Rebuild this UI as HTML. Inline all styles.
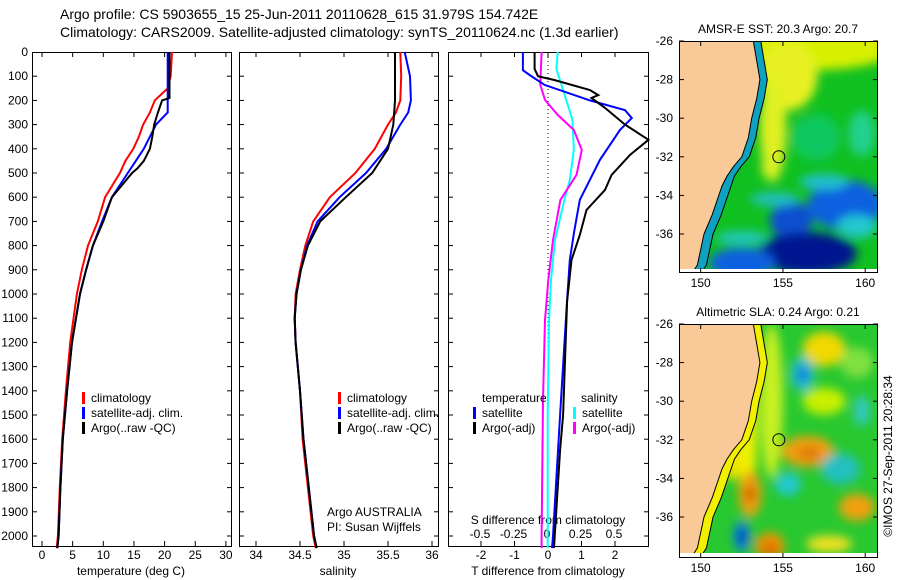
<!DOCTYPE html>
<html><head><meta charset="utf-8"><style>
body{margin:0;background:#fff;}
svg{display:block;font-family:"Liberation Sans",sans-serif;}
text{font-size:12px;fill:#000;}
</style></head><body>
<svg id="s" width="900" height="580" viewBox="0 0 900 580">
<defs>
<filter id="bl" x="-50%" y="-50%" width="200%" height="200%"><feGaussianBlur stdDeviation="5"/></filter>
<clipPath id="c1"><rect x="679" y="41" width="199" height="228"/></clipPath>
<clipPath id="c2"><rect x="679" y="324" width="199" height="229"/></clipPath>
</defs>
<text x="60" y="19" style="font-size:14px">Argo profile: CS 5903655_15 25-Jun-2011 20110628_615 31.979S 154.742E</text>
<text x="60" y="37" style="font-size:14px">Climatology: CARS2009. Satellite-adjusted climatology: synTS_20110624.nc (1.3d earlier)</text>
<g id="g"></g>
</svg>
<script>
// ---- data ----
const tDepth=[0,100,150,200,250,300,350,400,450,500,550,600,700,800,900,1000,1200,1400,1600,1800,2000,2050];
const tClim=[21.2,21.0,20.5,18.4,17.6,16.5,15.8,14.9,13.6,12.7,11.5,10.3,9.1,7.5,6.5,5.7,4.6,3.9,3.3,2.9,2.6,2.4];
const tSatDepth=[0,250,300,350,400,450,500,600,700,800,900,1000,1200,1400,1600,1800,2000,2050];
const tSat=[20.5,20.5,18.6,17.6,16.6,15.3,14.0,11.4,9.8,8.3,7.2,6.2,4.9,4.1,3.4,3.0,2.7,2.5];
const tArgoDepth=[0,190,200,250,300,350,400,450,480,500,600,700,800,900,1000,1200,1400,1600,1800,2000,2050];
const tArgo=[20.8,20.8,19.6,18.9,18.3,18.0,17.6,16.6,15.6,14.7,11.4,10.0,8.3,7.2,6.2,4.9,4.1,3.4,3.0,2.7,2.5];
const sDepth=[0,100,200,250,300,400,500,600,700,800,900,1000,1100,1200,1400,1600,1800,2000,2050];
const sClim=[35.64,35.65,35.64,35.59,35.5,35.35,35.13,34.84,34.65,34.56,34.5,34.45,34.44,34.45,34.5,34.53,34.59,34.65,34.68];
const sSat=[35.69,35.75,35.76,35.73,35.64,35.48,35.25,34.95,34.7,34.58,34.51,34.46,34.44,34.45,34.5,34.54,34.6,34.66,34.69];
const sArgo=[35.58,35.58,35.58,35.57,35.56,35.5,35.32,35.02,34.73,34.59,34.51,34.46,34.44,34.45,34.5,34.54,34.6,34.66,34.69];
const dtSatDepth=[0,75,95,136,200,240,273,322,446,611,744,860,1025,1500,2000,2050];
const dtSat=[-0.75,-0.75,-0.55,-0.1,1.25,2.3,2.5,2.15,1.55,0.95,0.78,0.65,0.57,0.36,0.15,0.12];
const dtArgoDepth=[0,70,100,116,157,178,190,231,300,363,425,508,570,653,756,860,1030,1500,1645,2000,2050];
const dtArgo=[-0.4,-0.4,-0.3,0.2,1.25,1.5,1.3,1.7,2.3,3.0,2.45,1.9,1.7,1.15,0.95,0.7,0.57,0.45,0.36,0.2,0.18];
const dsDepth=[0,136,198,260,322,405,508,611,777,942,1107,1438,2000,2050];
const dsArgo=[-0.04,-0.05,-0.015,0.08,0.2,0.26,0.22,0.1,0.045,0.01,-0.015,-0.03,-0.04,-0.04];
const dsSatDepth=[0,70,157,281,405,529,611,777,942,1107,1500,2000,2050];
const dsSat=[0.08,0.07,0.12,0.19,0.2,0.17,0.13,0.06,0.03,0.015,0.005,0.005,0.005];
const depthTicks=[0,100,200,300,400,500,600,700,800,900,1000,1100,1200,1300,1400,1500,1600,1700,1800,1900,2000];
const tTicks=[0,5,10,15,20,25,30];
const sTicks=[34,34.5,35,35.5,36];
const dtTicks=[-2,-1,0,1,2];
const dsTicks=[-0.5,-0.25,0,0.25,0.5];
const dsTickLabels=["-0.5","-0.25","0","0.25","0.5"];
const latTicks=[-26,-28,-30,-32,-34,-36];
const lonTicks=[150,155,160];
// ---- axes ----
const Y=d=>52+d*0.242;
const xT=v=>42+v*6.13, xS=v=>256+(v-34)*88, xDT=v=>548+v*33.5, xDS=v=>547+v*134;
const NS='http://www.w3.org/2000/svg', G=document.getElementById('g');
function el(tag,attrs,parent){const e=document.createElementNS(NS,tag);for(const k in attrs)e.setAttribute(k,attrs[k]);(parent||G).appendChild(e);return e;}
function txt(x,y,s,anchor,parent,size){const t=el('text',{x:x,y:y,'text-anchor':anchor||'start'},parent);if(size)t.style.fontSize=size+'px';t.textContent=s;return t;}
function line(xs,ds,fx,col,name,w){
  const p=xs.map((v,i)=>fx(v).toFixed(1)+','+Y(ds[i]).toFixed(1)).join(' ');
  const e=el('polyline',{points:p,fill:'none',stroke:col,'stroke-width':w||2});
  
  
}
const panels=[[32,231],[239,438],[448,648]];
panels.forEach((p,i)=>{
  const r=el('rect',{x:p[0]+.5,y:52.5,width:p[1]-p[0],height:494,fill:'none',stroke:'#000'});
  
  
  depthTicks.forEach(d=>{if(d==0)return;el('line',{x1:p[0],x2:p[0]+5,y1:Y(d),y2:Y(d),stroke:'#000'});el('line',{x1:p[1]-4,x2:p[1],y1:Y(d),y2:Y(d),stroke:'#000'});});
});
depthTicks.forEach(d=>{const t=txt(28,Y(d)+4,String(d),'end');});
function xticks(ticks,fx,labels,ly){ticks.forEach((v,i)=>{const x=fx(v);el('line',{x1:x,x2:x,y1:546,y2:541,stroke:'#000'});el('line',{x1:x,x2:x,y1:52,y2:57,stroke:'#000'});const t=txt(x,ly,labels?labels[i]:String(v),'middle');});}
xticks(tTicks,xT,null,559);xticks(sTicks,xS,null,559);xticks(dtTicks,xDT,null,559);
dsTicks.forEach((v,i)=>{const t=txt(xDS(v),538,dsTickLabels[i],'middle');});
[['temperature (deg C)',131,575],['salinity',338,575],['T difference from climatology',548,575],['S difference from climatology',548,524]].forEach(a=>{const t=txt(a[1],a[2],a[0],'middle');});
el('line',{x1:548,x2:548,y1:53,y2:545,stroke:'#000','stroke-dasharray':'1,3'});
// series
line(tClim,tDepth,xT,'#f00','temp-climatology');
line(tSat,tSatDepth,xT,'#00f','temp-satellite');
line(tArgo,tArgoDepth,xT,'#000','temp-argo');
line(sClim,sDepth,xS,'#f00','sal-climatology');
line(sSat,sDepth,xS,'#00f','sal-satellite');
line(sArgo,sDepth,xS,'#000','sal-argo');
line(dsSat,dsSatDepth,xDS,'#0ff','sdiff-satellite');
line(dsArgo,dsDepth,xDS,'#f0f','sdiff-argo');
line(dtSat,dtSatDepth,xDT,'#00f','tdiff-satellite');
line(dtArgo,dtArgoDepth,xDT,'#000','tdiff-argo');
// legends
function leg(x,y,col,label){el('rect',{x:x,y:y-10,width:3,height:12,fill:col});const t=txt(x+9,y,label);}
[[82,'#f00','climatology',402],[82,'#00f','satellite-adj. clim.',417],[82,'#000','Argo(..raw -QC)',432],[338,'#f00','climatology',402],[338,'#00f','satellite-adj. clim.',417],[338,'#000','Argo(..raw -QC)',432]].forEach(a=>leg(a[0],a[3],a[1],a[2]));
txt(482,402,'temperature');txt(581,402,'salinity');
leg(473,417,'#00f','satellite');leg(473,432,'#000','Argo(-adj)');
leg(573,417,'#0ff','satellite');leg(573,432,'#f0f','Argo(-adj)');
txt(327,516,'Argo AUSTRALIA');txt(327,531,'PI: Susan Wijffels');
// ---- maps ----
const LX=v=>700.7+(v-150)*16.45;
function map(top,clip,title,blobs,base,coastCol,name){
  const g=el('g',{});
  const LY=v=>top+(-26-v)*19.3;
  const cg=el('g',{'clip-path':'url(#'+clip+')'},g);
  el('rect',{x:679,y:top,width:199,height:(clip=='c1'?228:229),fill:base},cg);
  const bg=el('g',{filter:'url(#bl)'},cg);
  blobs.forEach(b=>el('ellipse',{cx:LX(b[0]),cy:LY(b[1]),rx:b[2]*16.45,ry:b[3]*19.3,fill:b[4]},bg));
  const coastLat=[-26,-27,-28,-29,-30,-31,-32,-32.5,-33,-33.5,-34,-35,-36,-37,-37.6,-38];
  const coastLon=[153.2,153.4,153.6,153.4,153.1,152.9,152.5,152.0,151.6,151.3,151.1,150.7,150.2,149.95,149.8,149.5];
  const shelfLon=coastLon.map((v,i)=>v+0.45+(coastLat[i]<-33?0.1:0));
  // coastal strip band
  const band=coastLon.map((v,i)=>LX(v)+','+LY(coastLat[i])).join(' ')+' '+shelfLon.slice().reverse().map((v,i,a)=>LX(v)+','+LY(coastLat[coastLat.length-1-i])).join(' ');
  el('polygon',{points:band,fill:coastCol},cg);
  const pts=coastLon.map((v,i)=>LX(v)+','+LY(coastLat[i])).join(' ');
  el('polygon',{points:'679,'+LY(-26)+' '+pts+' 679,'+LY(-38),fill:'#f9c998',stroke:'#000','stroke-width':1},cg);
  const shelf=shelfLon.map((v,i)=>LX(v)+','+LY(coastLat[i])).join(' ');
  el('polyline',{points:shelf,fill:'none',stroke:'#000','stroke-width':1},cg);
  el('rect',{x:679,y:LY(-37.9),width:199,height:10,fill:'#fff'},cg);
  el('circle',{cx:LX(154.75),cy:LY(-32),r:6,fill:'none',stroke:'#000'},g);
  el('rect',{x:679.5,y:top+.5,width:198,height:(clip=='c1'?231:233),fill:'none',stroke:'#000'},g);
  latTicks.forEach(v=>{el('line',{x1:679,x2:684,y1:LY(v),y2:LY(v),stroke:'#000'},g);el('line',{x1:873,x2:878,y1:LY(v),y2:LY(v),stroke:'#000'},g);txt(673,LY(v)+4,String(v),'end',g);});
  const bot=top+(clip=='c1'?232:234);
  lonTicks.forEach(v=>{el('line',{x1:LX(v),x2:LX(v),y1:top,y2:top+5,stroke:'#000'},g);el('line',{x1:LX(v),x2:LX(v),y1:bot-5,y2:bot,stroke:'#000'},g);txt(LX(v),bot+14,String(v),'middle',g);});
  txt(778,top-8,title,'middle',g);
}
map(41,'c1','AMSR-E SST: 20.3 Argo: 20.7',[
 [157,-26.3,5,1.2,'#d8f000'],[155.3,-27.8,1.8,1.8,'#e8f020'],[154.4,-30.5,0.8,2.8,'#e0f020'],[154.2,-32.5,0.5,0.7,'#d8f020'],
 [157,-31,1.5,1.2,'#10c860'],[159.8,-30.8,0.8,1.2,'#20d090'],
 [158.8,-34.5,2.3,1.3,'#1060e0'],[157.5,-33.3,1.5,0.4,'#20c0d0'],[159.5,-35.6,1.2,0.6,'#20c8d0'],[155.5,-35.3,1.3,1.0,'#1050d0'],
 [156.5,-37,3,1.1,'#001890'],[152.5,-37.5,2,0.8,'#1060e0'],[154.5,-34.2,1.5,0.35,'#20c0c0'],[152.5,-36.2,1.6,0.35,'#20c8c0']
],'#10c020','#10a0c0','sst-map');
map(324,'c2','Altimetric SLA: 0.24 Argo: 0.21',[
 [154.3,-30,0.7,4,'#c8f020'],[152.8,-32,0.6,4,'#f0f000'],
 [157.5,-27.3,1.3,0.9,'#f0d800'],[157.5,-30,1.3,0.7,'#c8f000'],[159.5,-28,1,0.8,'#80e040'],
 [156.2,-28.6,0.7,0.9,'#20c0d0'],[156.2,-28.6,0.3,0.4,'#1060e0'],[159.8,-30.5,0.5,0.8,'#30c8c0'],
 [156.5,-32.6,1.6,0.8,'#f0a010'],[156.6,-32.7,0.7,0.35,'#e07808'],
 [153,-34.8,0.7,1.2,'#f0a010'],[153,-34.8,0.3,0.45,'#d06000'],
 [154.2,-37.5,0.9,0.7,'#f09000'],[154.2,-37.7,0.4,0.3,'#d06000'],[152.5,-37,0.5,0.8,'#1080e0'],[152.5,-37,0.25,0.4,'#0040c0'],
 [159.5,-35.5,1.1,0.7,'#f0a010'],[158.5,-33.5,1.2,0.8,'#20c0c0'],[155.3,-34.3,0.8,0.6,'#20c8d0'],
 [157.8,-37.4,1.4,0.45,'#f0e020'],[151.8,-33.2,0.5,0.9,'#f0e000']
],'#28c830','#f0f000','sla-map');
const r=txt(0,0,'©IMOS 27-Sep-2011 20:28:34','middle');
r.setAttribute('transform','translate(892,456) rotate(-90)');


</script>
</body></html>
